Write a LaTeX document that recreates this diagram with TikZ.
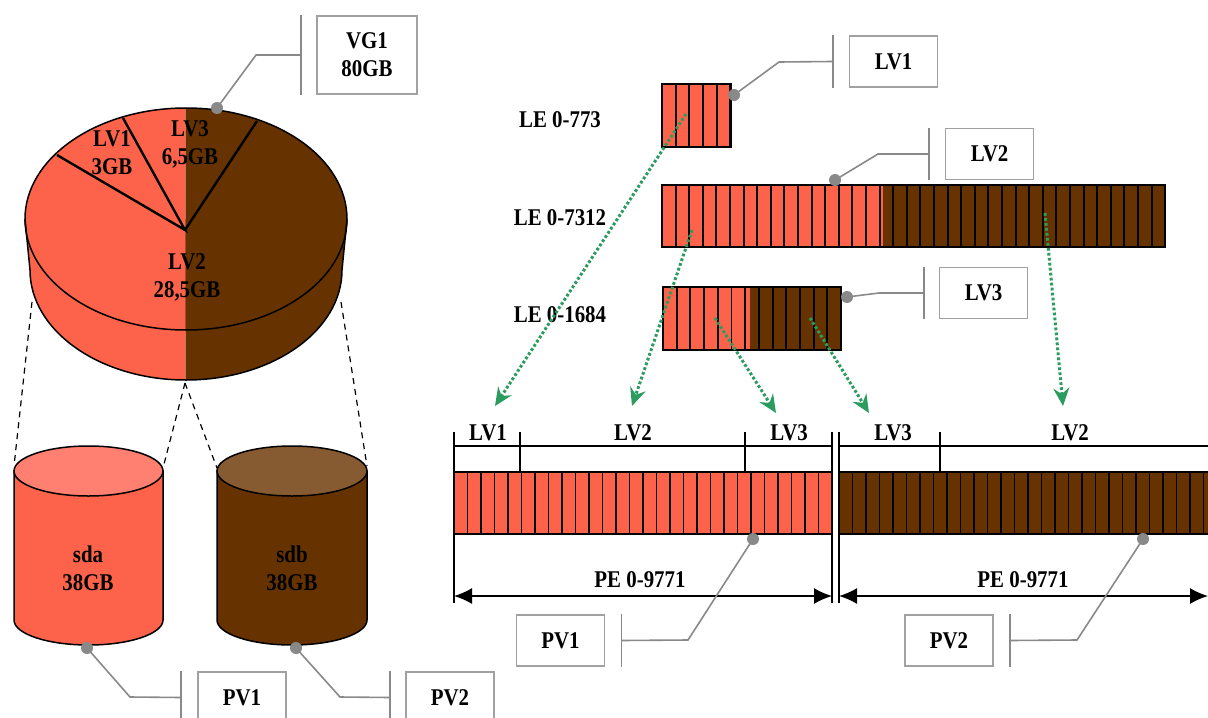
\documentclass[tikz,border=0pt]{standalone}
\usepackage{fontspec}
\setmainfont{Liberation Serif}[FakeStretch=0.87]
\usetikzlibrary{arrows.meta}

\definecolor{pvred}{RGB}{253,99,74}
\definecolor{pvbrown}{RGB}{102,51,0}
\definecolor{pvredtop}{RGB}{255,128,112}
\definecolor{pvbrowntop}{RGB}{134,91,50}
\definecolor{lemap}{RGB}{44,155,96}
\definecolor{calloutgray}{RGB}{137,137,137}

\tikzset{
  lbl/.style={font=\fontsize{12}{14}\selectfont\bfseries, align=center, inner sep=0pt},
  callbox/.style={lbl, draw=calloutgray!80, line width=0.8pt, minimum width=44pt, minimum height=25.5pt},
  callline/.style={draw=calloutgray, line width=0.8pt},
  pedge/.style={line width=0.75pt},
  cellline/.style={line width=0.95pt},
  barbox/.style={line width=1.1pt},
  guide/.style={line width=0.6pt, dash pattern=on 3pt off 2.5pt},
  dimline/.style={line width=0.75pt},
  dimtips/.style={{Latex[length=9pt,width=8pt]}-{Latex[length=9pt,width=8pt]}},
  lemapping/.style={lemap, line width=1.5pt, dash pattern=on 1.4pt off 1.1pt,
    -{Stealth[length=9pt,width=8pt,inset=3pt]}}
}

\begin{document}
\begin{tikzpicture}[x=0.5pt, y=-0.5pt]
\clip (0,0) rectangle (1208,717);
\useasboundingbox (0,0) rectangle (1208,717);

% volume group pie, left half on sda, right half on sdb
\begin{scope}
  \clip (0,0) rectangle (185.5,400);
  \fill[pvred] (25,219) -- (30,270) arc[start angle=180, end angle=0, x radius=156, y radius=110] -- (347,219) -- cycle;
  \fill[pvred] (186,219) ellipse[x radius=161, y radius=111];
\end{scope}
\begin{scope}
  \clip (185.5,0) rectangle (400,400);
  \fill[pvbrown] (25,219) -- (30,270) arc[start angle=180, end angle=0, x radius=156, y radius=110] -- (347,219) -- cycle;
  \fill[pvbrown] (186,219) ellipse[x radius=161, y radius=111];
\end{scope}
\draw[pedge] (25,219) -- (30,270) arc[start angle=180, end angle=0, x radius=156, y radius=110] -- (347,219);
\draw[pedge] (186,219) ellipse[x radius=161, y radius=111];
\draw[line width=1.2pt] (57,155) -- (185,230) -- (123,118) (185,230) -- (257,121);

\node[lbl] (lv1pie) at (112,153) {LV1\\3GB};
\node[lbl] (lv3pie) at (190,144) {LV3\\6,5GB};
\node[lbl] (lv2pie) at (187,277) {LV2\\28,5GB};

% VG callout
\node[callbox, minimum width=50pt, minimum height=39pt] (vg1) at (367,55) {VG1\\80GB};
\coordinate (vg1dot) at (217,108);
\draw[callline] (vg1dot) -- (256,55) -- ([xshift=-7.5pt]vg1.west);
\draw[callline] ([xshift=-7.5pt]vg1.north west) -- ([xshift=-7.5pt]vg1.south west);
\fill[calloutgray] (vg1dot) circle (3pt);

% guides down to the disks
\draw[guide] (32,302) -- (14,466);
\draw[guide] (185,383) -- (163,468);
\draw[guide] (185,383) -- (217,468);
\draw[guide] (341,302) -- (367,466);

% disks
\filldraw[fill=pvred, pedge] (14,471) -- (14,620) arc[start angle=180, end angle=0, x radius=74.5, y radius=25] -- (163,471) -- cycle;
\filldraw[fill=pvredtop, pedge] (88.5,471) ellipse[x radius=74.5, y radius=25];
\node[lbl] (sda) at (88,568) {sda\\38GB};

\filldraw[fill=pvbrown, pedge] (217,471) -- (217,620) arc[start angle=180, end angle=0, x radius=75, y radius=25] -- (367,471) -- cycle;
\filldraw[fill=pvbrowntop, pedge] (292,471) ellipse[x radius=75, y radius=25];
\node[lbl] (sdb) at (292,568) {sdb\\38GB};

\node[callbox] (pv1a) at (242,697.5) {PV1};
\coordinate (sdadot) at (87,648);
\draw[callline] (sdadot) -- (130,697) -- ([xshift=-8pt]pv1a.west);
\draw[callline] ([xshift=-8pt]pv1a.north west) -- ([xshift=-8pt]pv1a.south west);
\fill[calloutgray] (sdadot) circle (3pt);

\node[callbox] (pv2a) at (450,697.5) {PV2};
\coordinate (sdbdot) at (296,648);
\draw[callline] (sdbdot) -- (340,697) -- ([xshift=-7.5pt]pv2a.west);
\draw[callline] ([xshift=-7.5pt]pv2a.north west) -- ([xshift=-7.5pt]pv2a.south west);
\fill[calloutgray] (sdbdot) circle (3pt);

% logical extents
\node[lbl] (le1) at (560,120) {LE 0-773};
\node[lbl] (le2) at (560,218) {LE 0-7312};
\node[lbl] (le3) at (560,315) {LE 0-1684};

\fill[pvred] (662,84) rectangle (730.5,147);
\foreach \i in {1,...,4}
  \draw[cellline] (662+\i*13.7,84) -- (662+\i*13.7,147);
\draw[barbox] (662,84) rectangle (730.5,147);

\fill[pvred] (662,185) rectangle (883,247);
\fill[pvbrown] (883,185) rectangle (1165,247);
\foreach \i in {1,...,36}
  \draw[cellline] (662+\i*13.6,185) -- (662+\i*13.6,247);
\draw[barbox] (662,185) rectangle (1165,247);

\fill[pvred] (663,287) rectangle (750,350);
\fill[pvbrown] (750,287) rectangle (841,350);
\foreach \i in {1,...,12}
  \draw[cellline] (663+\i*13.7,287) -- (663+\i*13.7,350);
\draw[barbox] (663,287) rectangle (841,350);

% LV callouts
\node[callbox] (lv1) at (893.5,61.5) {LV1};
\coordinate (lv1dot) at (734,95);
\draw[callline] (lv1dot) -- (779,62) -- ([xshift=-8pt]lv1.west);
\draw[callline] ([xshift=-8pt]lv1.north west) -- ([xshift=-8pt]lv1.south west);
\fill[calloutgray] (lv1dot) circle (3pt);

\node[callbox] (lv2) at (989.5,154) {LV2};
\coordinate (lv2dot) at (835,180);
\draw[callline] (lv2dot) -- (878,154) -- ([xshift=-8pt]lv2.west);
\draw[callline] ([xshift=-8pt]lv2.north west) -- ([xshift=-8pt]lv2.south west);
\fill[calloutgray] (lv2dot) circle (3pt);

\node[callbox] (lv3) at (983.5,293) {LV3};
\coordinate (lv3dot) at (847,297);
\draw[callline] (lv3dot) -- (879,293) -- ([xshift=-7.5pt]lv3.west);
\draw[callline] ([xshift=-7.5pt]lv3.north west) -- ([xshift=-7.5pt]lv3.south west);
\fill[calloutgray] (lv3dot) circle (3pt);

% physical extents
\draw[dimline] (454,432) -- (454,603);
\draw[dimline] (832,432) -- (832,603);
\draw[dimline] (839,432) -- (839,603);
\draw[dimline] (454,446) -- (832,446);
\draw[dimline] (839,446) -- (1210,446);
\draw[dimline] (520,432) -- (520,472) (745,432) -- (745,472) (940,432) -- (940,472);

\fill[pvred] (454,472) rectangle (832,534);
\foreach \i in {1,...,27}
  \draw[cellline] (454+\i*13.5,472) -- (454+\i*13.5,534);
\draw[barbox] (454,472) rectangle (832,534);

\fill[pvbrown] (839,472) rectangle (1217,534);
\foreach \i in {1,...,27}
  \draw[cellline] (839+\i*13.5,472) -- (839+\i*13.5,534);
\draw[barbox] (839,472) rectangle (1217,534);

\node[lbl] (pv1lv1) at (488,433) {LV1};
\node[lbl] (pv1lv2) at (633,433) {LV2};
\node[lbl] (pv1lv3) at (789,433) {LV3};
\node[lbl] (pv2lv3) at (893,433) {LV3};
\node[lbl] (pv2lv2) at (1070,433) {LV2};

\draw[dimline, dimtips] (454,596) -- (832,596);
\draw[dimline, dimtips] (839,596) -- (1208,596);
\node[lbl] (pe1) at (640,580) {PE 0-9771};
\node[lbl] (pe2) at (1023,580) {PE 0-9771};

% LE -> PE mapping
\coordinate (m1a) at (686,114);  \coordinate (m1b) at (495,406);
\coordinate (m2a) at (692,230);  \coordinate (m2b) at (632,406);
\coordinate (m3a) at (715,318);  \coordinate (m3b) at (776,413);
\coordinate (m4a) at (810,318);  \coordinate (m4b) at (869,413);
\coordinate (m5a) at (1045,213); \coordinate (m5b) at (1063,406);
\foreach \s/\t in {m1a/m1b, m2a/m2b, m3a/m3b, m4a/m4b, m5a/m5b}
  \draw[lemapping] (\s) -- (\t);

% PV callouts
\node[callbox] (pv1b) at (560.5,640.5) {PV1};
\coordinate (pv1dot) at (753,539);
\draw[callline] (pv1dot) -- (688,640) -- ([xshift=8pt]pv1b.east);
\draw[callline] ([xshift=8pt]pv1b.north east) -- ([xshift=8pt]pv1b.south east);
\fill[calloutgray] (pv1dot) circle (3pt);

\node[callbox] (pv2b) at (949,640.5) {PV2};
\coordinate (pv2dot) at (1143,539);
\draw[callline] (pv2dot) -- (1077,640) -- ([xshift=8pt]pv2b.east);
\draw[callline] ([xshift=8pt]pv2b.north east) -- ([xshift=8pt]pv2b.south east);
\fill[calloutgray] (pv2dot) circle (3pt);
\end{tikzpicture}
\end{document}
